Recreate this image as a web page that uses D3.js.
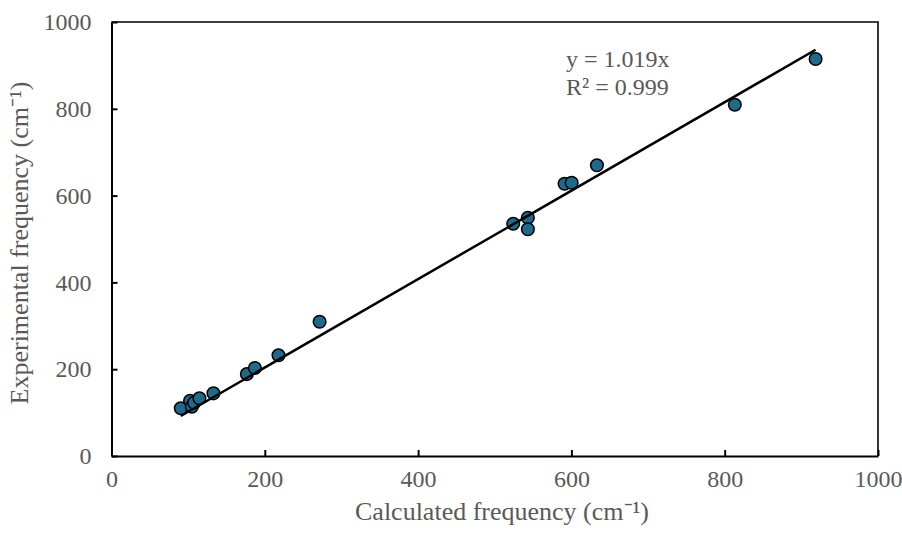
<!DOCTYPE html>
<html>
<head>
<meta charset="utf-8">
<script src="https://cdn.jsdelivr.net/npm/d3@7"></script>
<style>
  body { margin: 0; background: #fff; }
  svg { font-family: "Liberation Serif", "Times New Roman", serif; }
</style>
</head>
<body>
<div id="chart"></div>
<script>

// calculated vs experimental frequencies (cm-1)
var calcFreq = [90.4, 102.5, 104.8, 107.8, 114.7, 133.0, 176.6, 187.1, 217.9, 271.5,
                524.1, 543.2, 543.2, 591.1, 600.3, 633.3, 813.2, 918.6];
var expFreq  = [109.9, 127.4, 113.6, 122.8, 132.9, 144.4, 188.7, 202.8, 232.0, 309.4,
                535.3, 549.0, 522.4, 627.4, 629.7, 669.8, 809.5, 914.7];

var xTicks = [0, 200, 400, 600, 800, 1000];
var yTicks = [0, 200, 400, 600, 800, 1000];

var slope = 1.019;
var eqLabels = ["y = 1.019x", "R\u00b2 = 0.999"];

var margin = {
  left: 111.5,
  right: 24,
  top: 22,
  bottom: 78
};

var width = 902 - margin.left - margin.right;
var height = 534 - margin.top - margin.bottom;

var svg = d3.select("#chart")
  .append("svg")
  .attr("width", 902)
  .attr("height", 534);

var g = svg.append("g")
  .attr("transform", "translate(" + margin.left + "," + margin.top + ")");

var xScale = d3.scaleLinear().domain([0, 1000]).range([0, width]);
var yScale = d3.scaleLinear().domain([0, 1000]).range([height, 0]);

// frame: top + right border
g.append("path")
  .attr("d", "M0,0H" + width + "V" + height)
  .attr("fill", "none")
  .attr("stroke", "#000")
  .attr("stroke-width", 1.6);

var xAxis = d3.axisBottom(xScale).tickValues(xTicks).tickFormat(d3.format("d"))
  .tickSizeInner(-6).tickSizeOuter(0).tickPadding(14);
var yAxis = d3.axisLeft(yScale).tickValues(yTicks).tickFormat(d3.format("d"))
  .tickSizeInner(-6).tickSizeOuter(0).tickPadding(20);

var gx = g.append("g")
  .attr("transform", "translate(0," + height + ")")
  .call(xAxis);

var gy = g.append("g").call(yAxis);

[gx, gy].forEach(function (a) {
  a.selectAll(".domain").attr("stroke", "#000").attr("stroke-width", 2);
  a.selectAll(".tick line").attr("stroke", "#000").attr("stroke-width", 2);
  a.selectAll("text")
    .attr("fill", "#595959")
    .style("font-size", "24px")
    .style("font-family", "Liberation Serif");
});
gx.selectAll("text").attr("dy", "0.71em");

// points
g.selectAll(".circ")
  .data(calcFreq).enter()
  .append("circle")
  .attr("class", "circ")
  .attr("cx", function (d) { return xScale(d); })
  .attr("cy", function (d, i) { return yScale(expFreq[i]); })
  .attr("r", 6.3)
  .attr("fill", "#1c6a8c")
  .attr("stroke", "#000")
  .attr("stroke-width", 1.5);

// linear trendline through origin
var xmin = d3.min(calcFreq), xmax = d3.max(calcFreq);
g.append("line")
  .attr("x1", xScale(xmin))
  .attr("y1", yScale(slope * xmin))
  .attr("x2", xScale(xmax))
  .attr("y2", yScale(slope * xmax))
  .attr("stroke", "#000")
  .attr("stroke-width", 2.5);

// equation label
svg.selectAll(".eq")
  .data(eqLabels).enter()
  .append("text")
  .attr("class", "eq")
  .attr("x", 566)
  .attr("y", function (d, i) { return 67 + i * 28; })
  .attr("fill", "#595959")
  .style("font-size", "24px")
  .text(function (d) { return d; });

// axis titles
svg.append("text")
  .attr("x", 502)
  .attr("y", 520)
  .attr("text-anchor", "middle")
  .attr("fill", "#595959")
  .style("font-size", "26px")
  .text("Calculated frequency (cm\u207b\u00b9)");

svg.append("text")
  .attr("transform", "translate(28,243) rotate(-90)")
  .attr("text-anchor", "middle")
  .attr("fill", "#595959")
  .style("font-size", "26px")
  .text("Experimental frequency (cm\u207b\u00b9)");

</script>
</body>
</html>
